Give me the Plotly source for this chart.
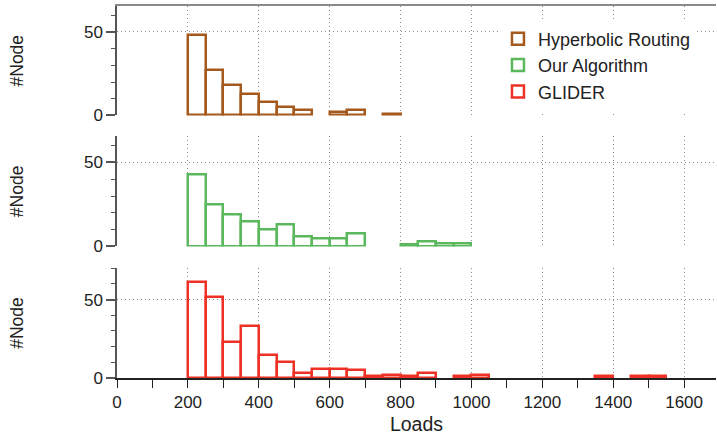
import plotly.graph_objects as go

# ---- data (bin left edges, bin width 50) ----
BIN_W = 50
hyper_bins = [200, 250, 300, 350, 400, 450, 500, 600, 650, 750]
hyper_counts = [48, 27, 18, 13, 8, 5, 3, 2, 3, 1]

algo_bins = [200, 250, 300, 350, 400, 450, 500, 550, 600, 650, 800, 850, 900, 950]
algo_counts = [43, 25, 19, 15, 10, 13, 6, 5, 5, 8, 1, 3, 2, 2]

glider_bins = [200, 250, 300, 350, 400, 450, 500, 550, 600, 650, 700, 750, 800,
               850, 950, 1000, 1350, 1450, 1500]
glider_counts = [61, 52, 23, 33, 15, 10, 3, 6, 6, 5, 1, 2, 1, 3, 1, 2, 1, 1, 1]

x_tick_vals = [0, 200, 400, 600, 800, 1000, 1200, 1400, 1600]
x_tick_text = ["0", "200", "400", "600", "800", "1000", "1200", "1400", "1600"]

series = [
    ("Hyperbolic Routing", hyper_bins, hyper_counts, "#A5591C", "x3", "y3"),
    ("Our Algorithm", algo_bins, algo_counts, "#5CB85C", "x2", "y2"),
    ("GLIDER", glider_bins, glider_counts, "#EE3124", "x", "y"),
]

FONT = "Liberation Sans, Arial, Helvetica, sans-serif"
GRID = "#8c8c8c"
GRID_DASH = "1px,3px"
SPINE = "#555555"
TXT = "#222222"

fig = go.Figure()
for name, bins, counts, color, xa, ya in series:
    fig.add_trace(go.Bar(
        name=name,
        x=[b + BIN_W / 2 for b in bins],
        y=counts,
        width=BIN_W,
        marker=dict(color="rgba(0,0,0,0)", line=dict(color=color, width=2.5)),
        xaxis=xa, yaxis=ya,
    ))

common_x = dict(
    range=[0, 1690],
    tickvals=x_tick_vals, ticktext=x_tick_text,
    showgrid=True, gridcolor=GRID, griddash=GRID_DASH, gridwidth=1,
    zeroline=False, automargin=False,
    tickfont=dict(family=FONT, size=17, color=TXT),
)
common_y = dict(
    tickvals=[0, 50], ticktext=["0", "50"],
    showgrid=True, gridcolor=GRID, griddash=GRID_DASH, gridwidth=1,
    zeroline=False, automargin=False,
    showline=True, linecolor=SPINE, linewidth=1.5,
    ticks="outside", ticklen=9, tickcolor=SPINE, tickwidth=1.5,
    minor=dict(dtick=10, ticks="outside", ticklen=4, tickcolor=SPINE, tickwidth=1.2, showgrid=False),
    tickfont=dict(family=FONT, size=17, color=TXT),
    title=dict(text="#Node", font=dict(family=FONT, size=17.5, color=TXT), standoff=56),
)

d_bottom = [0, 0.2957]
d_mid = [0.3538, 0.6495]
d_top = [0.7059, 1.0]

fig.update_layout(
    width=717, height=436,
    margin=dict(l=117, r=1, t=6, b=58),
    paper_bgcolor="white", plot_bgcolor="white",
    bargap=0, barmode="overlay",
    showlegend=True,
    legend=dict(
        x=0.636, y=0.961, xanchor="left", yanchor="top",
        bgcolor="white", borderwidth=0,
        font=dict(family=FONT, size=18, color=TXT),
        tracegroupgap=0, itemwidth=30,
    ),
    xaxis=dict(
        **common_x, domain=[0, 1], anchor="y",
        showline=True, linecolor=TXT, linewidth=1.5,
        ticks="outside", ticklen=8, tickcolor=TXT, tickwidth=1.2,
        minor=dict(dtick=100, ticks="outside", ticklen=8, tickcolor=TXT, tickwidth=1.2, showgrid=False),
        showticklabels=True,
        title=dict(text="Loads", font=dict(family=FONT, size=19.5, color=TXT), standoff=6),
    ),
    xaxis2=dict(**common_x, domain=[0, 1], anchor="y2", matches="x",
                showline=False, ticks="", showticklabels=False),
    xaxis3=dict(**common_x, domain=[0, 1], anchor="y3", matches="x",
                showline=True, side="top", linecolor="#8a8a8a", linewidth=1.5,
                ticks="", showticklabels=False),
    yaxis=dict(**common_y, domain=d_bottom, anchor="x", range=[0, 70.2]),
    yaxis2=dict(**common_y, domain=d_mid, anchor="x2", range=[0, 65.5]),
    yaxis3=dict(**common_y, domain=d_top, anchor="x3", range=[0, 65.5]),
)

fig.write_html(
    "out.html",
    config={"displayModeBar": False},
    post_script="document.body.style.margin='0';document.body.style.overflow='hidden';",
)
